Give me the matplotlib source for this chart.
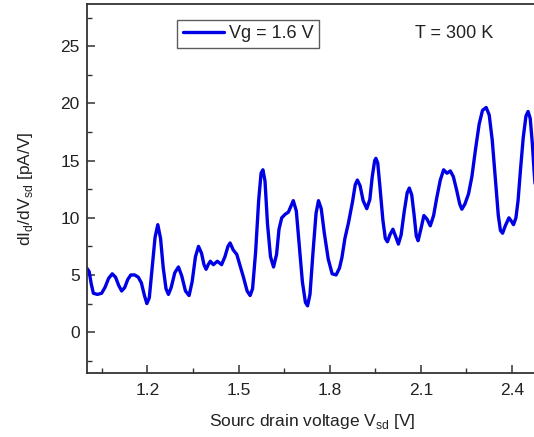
import matplotlib
matplotlib.use("Agg")
import matplotlib.pyplot as plt
from matplotlib.ticker import MultipleLocator

plt.rcParams["font.family"] = ["Liberation Sans", "DejaVu Sans"]

# traced dI/dV curve, Vg = 1.6 V
v_sd = [
    1.000, 1.008, 1.015, 1.022, 1.035, 1.049, 1.060, 1.072, 1.084, 1.095,
    1.105, 1.115, 1.125, 1.135, 1.145, 1.158, 1.170, 1.180, 1.190, 1.198,
    1.206, 1.215, 1.225, 1.234, 1.243, 1.252, 1.261, 1.269, 1.278, 1.290,
    1.302, 1.313, 1.325, 1.337, 1.347, 1.358, 1.368, 1.378, 1.386, 1.393,
    1.400, 1.407, 1.417, 1.430, 1.444, 1.455, 1.465, 1.472, 1.482, 1.494,
    1.505, 1.516, 1.528, 1.538, 1.546, 1.556, 1.566, 1.574, 1.580, 1.587,
    1.595, 1.605, 1.615, 1.625, 1.633, 1.642, 1.653, 1.664, 1.672, 1.680,
    1.690, 1.700, 1.710, 1.720, 1.727, 1.735, 1.745, 1.755, 1.763, 1.772,
    1.782, 1.795, 1.808, 1.821, 1.832, 1.840, 1.850, 1.862, 1.875, 1.884,
    1.891, 1.900, 1.910, 1.922, 1.932, 1.940, 1.948, 1.952, 1.958, 1.965,
    1.975, 1.983, 1.990, 1.998, 2.008, 2.018, 2.026, 2.035, 2.045, 2.055,
    2.062, 2.070, 2.078, 2.085, 2.091, 2.100, 2.110, 2.120, 2.131, 2.142,
    2.152, 2.164, 2.175, 2.186, 2.197, 2.207, 2.218, 2.228, 2.235, 2.245,
    2.257, 2.268, 2.280, 2.292, 2.303, 2.315, 2.325, 2.335, 2.345, 2.355,
    2.362, 2.369, 2.378, 2.390, 2.398, 2.405, 2.413, 2.420, 2.428, 2.437,
    2.446, 2.453, 2.460, 2.467, 2.473, 2.480,
]
didv = [
    5.6, 5.3, 4.2, 3.4, 3.3, 3.4, 3.9, 4.7, 5.1, 4.8,
    4.1, 3.6, 3.9, 4.6, 5.0, 5.0, 4.8, 4.3, 3.2, 2.5,
    3.0, 5.5, 8.3, 9.4, 8.2, 5.6, 3.8, 3.3, 3.9, 5.2,
    5.7, 4.9, 3.6, 3.2, 4.4, 6.6, 7.5, 6.9, 5.9, 5.5,
    5.9, 6.2, 5.9, 6.2, 5.9, 6.6, 7.5, 7.8, 7.2, 6.8,
    5.8, 4.8, 3.6, 3.2, 3.8, 7.0, 11.5, 13.9, 14.2, 13.2,
    9.5, 6.6, 5.7, 6.8, 9.0, 10.0, 10.3, 10.5, 11.0, 11.5,
    10.6, 7.5, 4.4, 2.6, 2.3, 3.3, 7.0, 10.4, 11.5, 10.8,
    8.7, 6.4, 5.1, 5.0, 5.6, 6.5, 8.2, 9.6, 11.4, 12.9,
    13.3, 12.8, 11.5, 10.8, 11.6, 13.6, 15.0, 15.2, 14.8, 12.8,
    9.8, 8.2, 7.9, 8.5, 9.0, 8.3, 7.7, 8.5, 10.5, 12.2,
    12.6, 12.0, 10.2, 8.4, 8.0, 9.0, 10.2, 9.9, 9.3, 10.2,
    11.7, 13.3, 14.2, 13.9, 14.1, 13.6, 12.4, 11.2, 10.75, 11.2,
    12.1, 13.6, 16.0, 18.2, 19.4, 19.65, 19.0, 16.8, 13.5, 10.2,
    8.9, 8.65, 9.3, 10.0, 9.7, 9.4, 10.0, 11.5, 14.2, 17.0,
    18.9, 19.3, 18.7, 16.5, 14.0, 11.5,
]

fig = plt.figure(figsize=(5.34, 4.37), dpi=100)
ax = fig.add_axes([0.1624, 0.1458, 0.8376, 0.845])

ax.plot(v_sd, didv, color="#0000e6", linewidth=2.4, label="Vg = 1.6 V",
        solid_joinstyle="round", solid_capstyle="round")

ax.set_xlim(1.0, 2.4725)
ax.set_ylim(-3.6, 28.7)
ax.xaxis.set_minor_locator(MultipleLocator(0.15))
ax.yaxis.set_major_locator(MultipleLocator(5))
ax.yaxis.set_minor_locator(MultipleLocator(2.5))
ax.set_xticks([1.2, 1.5, 1.8, 2.1, 2.4])
ax.set_xticklabels(["1.2", "1.5", "1.8", "2.1", "2.4"])

ax.tick_params(which="both", direction="in", color="#333333",
               top=False, right=False, labelcolor="#222222", labelsize=12.5)
ax.tick_params(which="major", length=6, width=1.1)
ax.tick_params(which="minor", length=3.5, width=1.0)
ax.tick_params(axis="x", pad=7)
ax.tick_params(axis="y", pad=5)

for side in ["left", "bottom", "top"]:
    ax.spines[side].set_color("#333333")
    ax.spines[side].set_linewidth(1.3)
ax.spines["right"].set_visible(False)

ax.set_xlabel("Sourc drain voltage V$_\\mathregular{sd}$ [V]", fontsize=12.5, color="#222222")
ax.set_ylabel("dI$_\\mathregular{d}$/dV$_\\mathregular{sd}$ [pA/V]", fontsize=12.5, color="#222222")
ax.xaxis.set_label_coords(0.504, -0.105)
ax.yaxis.set_label_coords(-0.115, 0.5)

leg = ax.legend(loc="upper left", bbox_to_anchor=(0.2026, 0.9567), borderaxespad=0,
                fancybox=False, edgecolor="#333333", fontsize=13, handlelength=2.3,
                borderpad=0.3, handletextpad=0.25, labelcolor="#222222")
leg.get_frame().set_linewidth(1.0)

ax.text(0.734, 0.9207, "T = 300 K", transform=ax.transAxes, ha="left", va="center",
        fontsize=13, color="#222222")

fig.savefig("out.png", dpi=100)
